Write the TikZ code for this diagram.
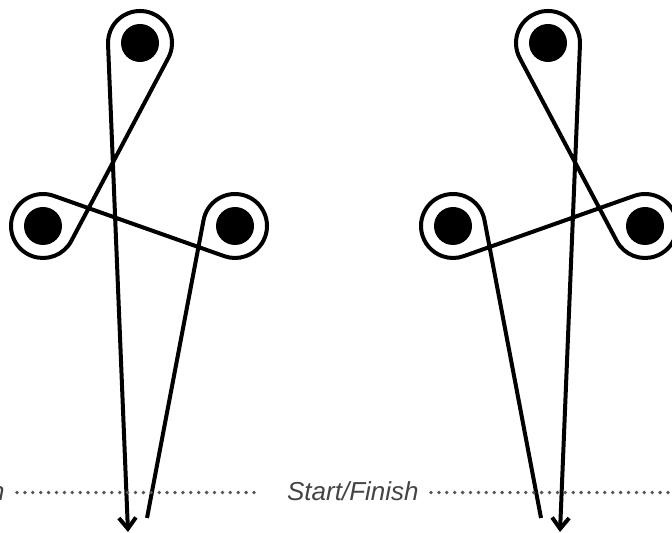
\documentclass[tikz,border=0pt]{standalone}
\usepackage{fontspec}
\setmainfont{Liberation Sans}
\usepackage{xcolor}
\usepackage{tikz}
\usetikzlibrary{calc,arrows.meta}
\definecolor{dotgray}{HTML}{555555}
\definecolor{textgray}{HTML}{444444}

\begin{document}
\begin{tikzpicture}[x=0.5pt, y=0.5pt,
  barrel/.style={circle, fill=black, minimum size=19pt, inner sep=0pt},
  route/.style={line width=2pt, line join=round},
  finishline/.style={dotgray, line width=1.9pt, line cap=round, dash pattern=on 0pt off 3.95pt},
  startlabel/.style={textgray, font=\fontsize{13}{15}\selectfont\itshape, inner sep=0pt, anchor=base east}]
\useasboundingbox (0,0) rectangle (672,-533);
\clip (0,0) rectangle (672,-533);

% left pattern
\node[barrel] (top1) at (140,-43) {};
\node[barrel] (left1) at (43,-226) {};
\node[barrel] (right1) at (235,-226) {};
\coordinate (start1) at (147,-518);
\coordinate (finish1) at (128,-532);
\draw[route, -{Straight Barb[length=5.5pt,width=8.5pt]}] (start1)
  -- ($(right1)+(169.25:32)$) arc[start angle=169.25, end angle=-109.47, radius=32]
  -- ($(left1)+(70.53:32)$) arc[start angle=70.53, end angle=332.07, radius=32]
  -- ($(top1)+(-27.93:32)$) arc[start angle=-27.93, end angle=182.34, radius=32]
  -- (finish1);

% right pattern
\node[barrel] (top2) at (548,-43) {};
\node[barrel] (left2) at (453,-226) {};
\node[barrel] (right2) at (645,-226) {};
\coordinate (start2) at (541,-518);
\coordinate (finish2) at (560,-532);
\draw[route, -{Straight Barb[length=5.5pt,width=8.5pt]}] (start2)
  -- ($(left2)+(10.75:32)$) arc[start angle=10.75, end angle=289.47, radius=32]
  -- ($(right2)+(109.47:32)$) arc[start angle=109.47, end angle=-152.07, radius=32]
  -- ($(top2)+(207.93:32)$) arc[start angle=207.93, end angle=-2.34, radius=32]
  -- (finish2);

% start/finish lines
\node[startlabel] (sf1) at (5,-500) {Start/Finish};
\node[startlabel] (sf2) at (419,-500) {Start/Finish};
\coordinate (gate1) at (258,-492.5);
\coordinate (gate2) at (676,-492.5);
\draw[finishline] ($(gate1 -| sf1.east)+(12,0)$) -- (gate1);
\draw[finishline] ($(gate2 -| sf2.east)+(12,0)$) -- (gate2);
\end{tikzpicture}
\end{document}
